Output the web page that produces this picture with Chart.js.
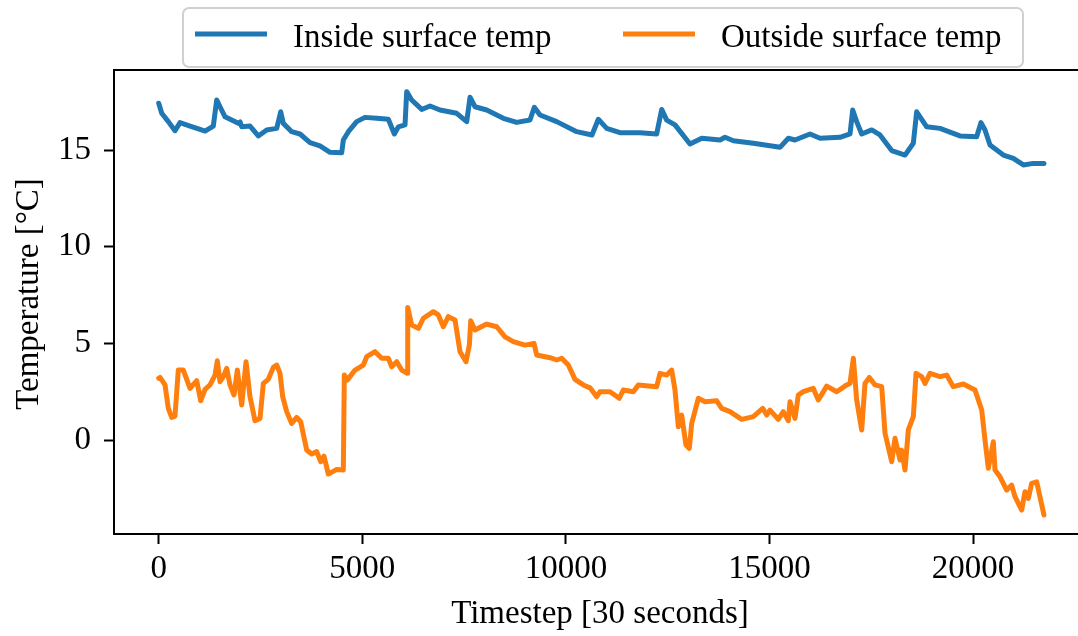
<!DOCTYPE html>
<html>
<head>
<meta charset="utf-8">
<script src="https://cdn.jsdelivr.net/npm/chart.js@4/dist/chart.umd.min.js"></script>
<style>
  html, body { margin: 0; padding: 0; background: #fff; }
  #wrap { width: 1078px; height: 636px; }
</style>
</head>
<body>
<div id="wrap"><canvas id="tempChart" width="1078" height="636"></canvas></div>
<script>
// series
const insideSteps = [0, 74, 236, 400, 523, 769, 1014, 1137, 1341, 1424, 1505, 1628, 1955, 2000, 2038, 2242, 2446, 2652, 2898, 2996, 3060, 3266, 3470, 3716, 3961, 4207, 4494, 4534, 4657, 4862, 5066, 5354, 5639, 5787, 5884, 6049, 6090, 6213, 6459, 6663, 6908, 7318, 7564, 7645, 7768, 8055, 8463, 8791, 9118, 9224, 9364, 9774, 10265, 10640, 10796, 11002, 11328, 11820, 12229, 12352, 12475, 12679, 13047, 13335, 13784, 13907, 14112, 14603, 15258, 15462, 15626, 15995, 16240, 16731, 16977, 17043, 17141, 17264, 17510, 17713, 18001, 18328, 18532, 18614, 18860, 19187, 19678, 20088, 20194, 20292, 20415, 20743, 20988, 21234, 21479, 21740];
const insideTemp = [17.42, 16.9, 16.47, 16.0, 16.42, 16.24, 16.07, 15.98, 16.24, 17.59, 17.24, 16.72, 16.38, 16.45, 16.2, 16.24, 15.73, 16.04, 16.12, 16.98, 16.38, 15.95, 15.83, 15.38, 15.21, 14.88, 14.86, 15.52, 15.95, 16.47, 16.69, 16.64, 16.59, 15.83, 16.2, 16.3, 18.02, 17.59, 17.1, 17.28, 17.07, 16.9, 16.47, 17.73, 17.24, 17.07, 16.64, 16.43, 16.55, 17.21, 16.81, 16.47, 15.95, 15.78, 16.59, 16.12, 15.9, 15.9, 15.83, 17.1, 16.55, 16.3, 15.31, 15.61, 15.52, 15.66, 15.48, 15.35, 15.14, 15.61, 15.52, 15.83, 15.61, 15.66, 15.83, 17.07, 16.47, 15.83, 16.04, 15.78, 14.97, 14.74, 15.35, 16.98, 16.2, 16.12, 15.73, 15.69, 16.42, 16.04, 15.26, 14.74, 14.57, 14.23, 14.31, 14.31];

const outsideSteps = [0, 32, 155, 236, 319, 400, 481, 604, 769, 933, 1031, 1137, 1260, 1383, 1439, 1505, 1587, 1669, 1751, 1849, 1931, 2038, 2144, 2242, 2365, 2488, 2569, 2692, 2815, 2898, 2979, 3045, 3143, 3266, 3389, 3487, 3634, 3757, 3880, 3978, 4059, 4165, 4371, 4534, 4558, 4632, 4821, 5025, 5108, 5312, 5476, 5639, 5722, 5845, 5968, 6106, 6115, 6213, 6377, 6499, 6745, 6867, 6990, 7112, 7276, 7399, 7547, 7629, 7662, 7768, 8055, 8301, 8505, 8709, 8995, 9216, 9283, 9610, 9774, 9897, 10059, 10223, 10428, 10592, 10756, 10837, 11083, 11311, 11410, 11655, 11778, 12229, 12311, 12475, 12598, 12679, 12761, 12843, 12949, 13031, 13089, 13252, 13416, 13703, 13826, 14030, 14317, 14603, 14833, 14931, 15012, 15216, 15339, 15462, 15503, 15626, 15707, 15830, 16076, 16199, 16405, 16650, 16896, 16977, 17059, 17141, 17264, 17345, 17452, 17591, 17755, 17837, 18001, 18082, 18205, 18246, 18328, 18409, 18532, 18598, 18737, 18819, 18941, 19187, 19351, 19514, 19760, 20047, 20211, 20292, 20374, 20497, 20538, 20661, 20824, 20947, 21029, 21193, 21274, 21356, 21438, 21561, 21740];
const outsideTemp = [3.19, 3.24, 2.85, 1.64, 1.17, 1.24, 3.62, 3.62, 2.67, 3.07, 2.03, 2.62, 2.85, 3.36, 4.1, 3.02, 3.28, 3.71, 2.85, 2.33, 3.62, 1.81, 4.05, 2.24, 1.0, 1.12, 2.93, 3.14, 3.76, 3.88, 3.45, 2.24, 1.47, 0.86, 1.17, 0.95, -0.52, -0.72, -0.6, -1.12, -0.83, -1.76, -1.52, -1.55, 3.36, 3.1, 3.62, 3.88, 4.31, 4.57, 4.23, 4.23, 3.79, 4.05, 3.62, 3.45, 6.86, 5.95, 5.78, 6.3, 6.64, 6.47, 5.86, 6.38, 6.21, 4.57, 4.05, 4.91, 6.17, 5.69, 6.0, 5.86, 5.34, 5.09, 4.91, 5.0, 4.4, 4.26, 4.14, 4.23, 3.88, 3.14, 2.85, 2.7, 2.24, 2.5, 2.5, 2.16, 2.59, 2.5, 2.85, 2.76, 3.45, 3.36, 3.62, 2.59, 0.69, 1.29, -0.26, -0.43, 0.86, 2.16, 1.98, 2.03, 1.64, 1.47, 1.07, 1.21, 1.64, 1.29, 1.55, 1.07, 1.47, 1.0, 1.98, 1.12, 2.33, 2.5, 2.67, 2.07, 2.79, 2.5, 2.85, 2.93, 4.23, 2.07, 0.52, 2.93, 3.24, 2.85, 2.76, 0.35, -1.12, 0.09, -1.03, -0.52, -1.55, 0.52, 1.21, 3.45, 3.28, 2.93, 3.45, 3.28, 3.36, 2.76, 2.9, 2.59, 1.55, 0, -1.46, -0.09, -1.55, -1.9, -2.59, -2.33, -2.93, -3.62, -2.67, -3.02, -2.24, -2.16, -3.88];

const seriesNames = ["Inside surface temp", "Outside surface temp"];
const seriesColors = ["#1f77b4", "#ff7f0e"];
const xTickValues = [0, 5000, 10000, 15000, 20000];
const yTickValues = [0, 5, 10, 15];
const xLabel = "Timestep [30 seconds]";
const yLabel = "Temperature [°C]";

const FONT = "'Liberation Serif', 'Times New Roman', serif";
const SIZE = 33;

function toPoints(xs, ys) {
  return xs.map((x, i) => ({ x: x, y: ys[i] }));
}

// top spine, axis titles and the framed legend
const decorations = {
  id: "decorations",
  afterDraw(chart) {
    const c = chart.ctx;
    const a = chart.chartArea;
    c.save();
    c.strokeStyle = "#000";
    c.lineWidth = 2;
    c.beginPath();
    c.moveTo(a.left - 1, a.top);
    c.lineTo(a.right, a.top);
    c.stroke();

    c.fillStyle = "#000";
    c.font = SIZE + "px " + FONT;
    c.textAlign = "center";
    c.textBaseline = "alphabetic";
    c.fillText(xLabel, 600, 623);

    c.save();
    c.translate(38, 294);
    c.rotate(-Math.PI / 2);
    c.fillText(yLabel, 0, 0);
    c.restore();

    // legend
    const bx = 183, by = 8, bw = 840, bh = 59, r = 6;
    c.beginPath();
    c.moveTo(bx + r, by);
    c.arcTo(bx + bw, by, bx + bw, by + bh, r);
    c.arcTo(bx + bw, by + bh, bx, by + bh, r);
    c.arcTo(bx, by + bh, bx, by, r);
    c.arcTo(bx, by, bx + bw, by, r);
    c.closePath();
    c.fillStyle = "rgba(255,255,255,0.85)";
    c.fill();
    c.strokeStyle = "#d0d0d0";
    c.lineWidth = 2;
    c.stroke();

    const items = [{ x: 195 }, { x: 623 }];
    items.forEach((it, i) => {
      c.strokeStyle = seriesColors[i];
      c.lineWidth = 5;
      c.beginPath();
      c.moveTo(it.x, 34);
      c.lineTo(it.x + 72, 34);
      c.stroke();
      c.fillStyle = "#000";
      c.textAlign = "left";
      c.fillText(seriesNames[i], it.x + 98, 47);
    });
    c.restore();
  }
};

const ctx = document.getElementById("tempChart").getContext("2d");
new Chart(ctx, {
  type: "line",
  data: {
    datasets: [
      {
        label: seriesNames[0],
        data: toPoints(insideSteps, insideTemp),
        borderColor: seriesColors[0],
        borderWidth: 5,
        pointRadius: 0,
        tension: 0,
        borderJoinStyle: "round",
        borderCapStyle: "round"
      },
      {
        label: seriesNames[1],
        data: toPoints(outsideSteps, outsideTemp),
        borderColor: seriesColors[1],
        borderWidth: 5,
        pointRadius: 0,
        tension: 0,
        borderJoinStyle: "round",
        borderCapStyle: "round"
      }
    ]
  },
  options: {
    responsive: false,
    animation: false,
    events: [],
    layout: { padding: { top: 70, left: 0, right: 0, bottom: 0 } },
    plugins: {
      legend: { display: false },
      tooltip: { enabled: false }
    },
    scales: {
      x: {
        type: "linear",
        min: -1098,
        max: 22576,
        afterBuildTicks: s => { s.ticks = xTickValues.map(v => ({ value: v })); },
        afterFit: s => { s.height = 102; },
        grid: { drawOnChartArea: false, drawTicks: true, tickLength: 10, tickWidth: 2, tickColor: "#000" },
        border: { display: true, color: "#000", width: 2 },
        ticks: {
          color: "#000",
          font: { family: FONT, size: SIZE },
          padding: 6,
          maxRotation: 0,
          autoSkip: false,
          callback: v => String(v)
        }
      },
      y: {
        min: -4.86,
        max: 19.14,
        afterBuildTicks: s => { s.ticks = yTickValues.map(v => ({ value: v })); },
        afterFit: s => { s.width = 114; },
        grid: { drawOnChartArea: false, drawTicks: true, tickLength: 10, tickWidth: 2, tickColor: "#000" },
        border: { display: true, color: "#000", width: 2 },
        ticks: {
          color: "#000",
          font: { family: FONT, size: SIZE },
          padding: 13,
          callback: v => String(v)
        }
      }
    }
  },
  plugins: [decorations]
});
</script>
</body>
</html>
